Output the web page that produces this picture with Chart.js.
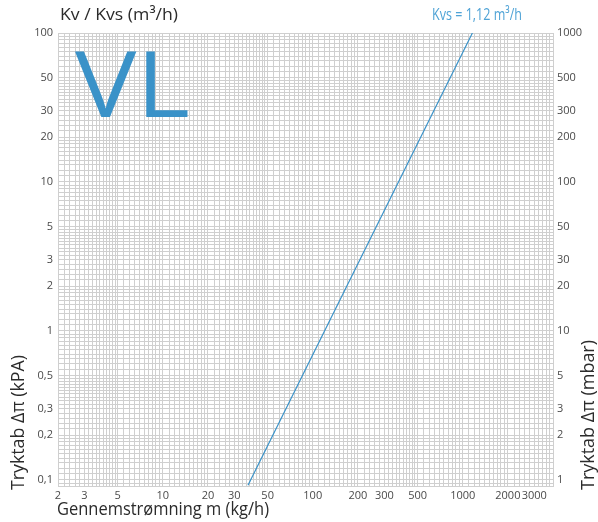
<!DOCTYPE html>
<html>
<head>
<meta charset="utf-8">
<script src="https://cdn.jsdelivr.net/npm/chart.js@4/dist/chart.umd.min.js"></script>
<style>
html,body{margin:0;padding:0;background:#fff;}
#wrap{width:598px;height:522px;position:relative;}
</style>
</head>
<body>
<div id="wrap"><canvas id="c" width="598" height="522"></canvas></div>
<script>
// ---- data ----
const flowKgH = [37, 1160];          // Gennemstrømning (kg/h) at the two line ends
const dropKPa = [0.092, 100];        // Tryktab (kPa) at the two line ends
const xTickLabels = [2, 3, 5, 10, 20, 30, 50, 100, 200, 300, 500, 1000, 2000, 3000];
const yTickLabelsKPa = [0.1, 0.2, 0.3, 0.5, 1, 2, 3, 5, 10, 20, 30, 50, 100];
const yTickLabelsMbar = [1, 2, 3, 5, 10, 20, 30, 50, 100, 200, 300, 500, 1000];
const gridMantissas = [1,1.1,1.2,1.3,1.4,1.5,1.6,1.7,1.8,1.9,2,2.2,2.4,2.6,2.8,3,3.2,3.4,3.6,3.8,4,4.2,4.4,4.6,4.8,5,5.5,6,6.5,7,7.5,8,8.5,9,9.5];
const xDecades = [1, 10, 100, 1000];
const yDecades = [0.01, 0.1, 1, 10, 100];
const seriesLabel = 'Kvs = 1,12 m³/h';
const productName = 'VL';

const X_MIN = 2, X_MAX = 4000, Y_MIN = 0.091, Y_MAX = 100;
const GRID = '#cfcfcf';
const BLUE = '#3a92c8';
const TXT = '#4a4a4a';
const FONT = '"Open Sans", "DejaVu Sans", sans-serif';

function gridValues(decades, lo, hi) {
  const out = [];
  decades.forEach(d => gridMantissas.forEach(m => {
    const v = +(d * m).toPrecision(6);
    if (v >= lo - 1e-9 && v <= hi + 1e-9) out.push(v);
  }));
  if (out[out.length - 1] < hi) out.push(hi);
  return out;
}
const fmt = v => String(v).replace('.', ',');
const near = (a, b) => Math.abs(a - b) / b < 1e-6;

function fitText(ctx, text, x, y, targetW, align) {
  const w = ctx.measureText(text).width;
  const s = targetW / w;
  ctx.save();
  ctx.translate(x, y);
  ctx.scale(s, 1);
  ctx.textAlign = align || 'left';
  ctx.fillText(text, 0, 0);
  ctx.restore();
}

const textPlugin = {
  id: 'texts',
  afterDraw(chart) {
    const ctx = chart.ctx;
    ctx.save();
    ctx.textBaseline = 'middle';
    // top-left title
    ctx.fillStyle = '#2b2b2b';
    ctx.font = '17px ' + FONT;
    fitText(ctx, 'Kv / Kvs (m³/h)', 60, 15, 118, 'left');
    // series label
    ctx.fillStyle = '#4fa3d6';
    ctx.font = '17px ' + FONT;
    fitText(ctx, seriesLabel, 522, 15, 90, 'right');
    // product name
    ctx.fillStyle = BLUE;
    ctx.font = '400 92px ' + FONT;
    ctx.textBaseline = 'alphabetic';
    fitText(ctx, productName, 75, 117, 115, 'left');
    // x title
    ctx.fillStyle = '#2b2b2b';
    ctx.textBaseline = 'middle';
    ctx.font = '18px ' + FONT;
    fitText(ctx, 'Gennemstrømning m (kg/h)', 57, 510, 212, 'left');
    // left y title
    ctx.save();
    ctx.translate(19, 490);
    ctx.rotate(-Math.PI / 2);
    fitText(ctx, 'Tryktab Δπ (kPA)', 0, 0, 135, 'left');
    ctx.restore();
    // right y title
    ctx.save();
    ctx.translate(589, 490);
    ctx.rotate(-Math.PI / 2);
    fitText(ctx, 'Tryktab Δπ (mbar)', 0, 0, 150, 'left');
    ctx.restore();
    ctx.restore();
  }
};

new Chart(document.getElementById('c'), {
  type: 'scatter',
  data: {
    datasets: [{
      data: flowKgH.map((x, i) => ({ x: x, y: dropKPa[i] })),
      showLine: true,
      borderColor: BLUE,
      borderWidth: 1.2,
      pointRadius: 0,
      yAxisID: 'y'
    }]
  },
  options: {
    responsive: false,
    animation: false,
    devicePixelRatio: 1,
    layout: { padding: { top: 33, left: 0, right: 0, bottom: 0 } },
    plugins: { legend: { display: false }, tooltip: { enabled: false } },
    scales: {
      x: {
        type: 'logarithmic',
        min: X_MIN, max: X_MAX,
        afterBuildTicks(s) { s.ticks = gridValues(xDecades, X_MIN, X_MAX).map(v => ({ value: v })); },
        afterFit(s) { s.height = 36; },
        grid: { color: GRID, lineWidth: 1, drawTicks: false },
        border: { color: GRID },
        ticks: {
          autoSkip: false, maxRotation: 0, minRotation: 0, padding: 3,
          color: TXT, font: { family: FONT, size: 11 },
          callback(v) { return xTickLabels.some(l => near(v, l)) ? fmt(v) : ''; }
        }
      },
      y: {
        type: 'logarithmic', position: 'left',
        min: Y_MIN, max: Y_MAX,
        afterBuildTicks(s) { s.ticks = gridValues(yDecades, Y_MIN, Y_MAX).map(v => ({ value: v })); },
        afterFit(s) { s.width = 58; },
        grid: { color: GRID, lineWidth: 1, drawTicks: false },
        border: { color: GRID },
        ticks: {
          autoSkip: false, padding: 5,
          color: TXT, font: { family: FONT, size: 11 },
          callback(v) { return yTickLabelsKPa.some(l => near(v, l)) ? fmt(v) : ''; }
        }
      },
      y2: {
        type: 'logarithmic', position: 'right',
        min: Y_MIN * 10, max: Y_MAX * 10,
        afterBuildTicks(s) { s.ticks = yTickLabelsMbar.map(v => ({ value: v })); },
        afterFit(s) { s.width = 45; },
        grid: { display: false, drawTicks: false },
        border: { display: false },
        ticks: {
          autoSkip: false, padding: 4,
          color: TXT, font: { family: FONT, size: 11 },
          callback(v) { return fmt(v); }
        }
      }
    }
  },
  plugins: [textPlugin]
});
</script>
</body>
</html>
